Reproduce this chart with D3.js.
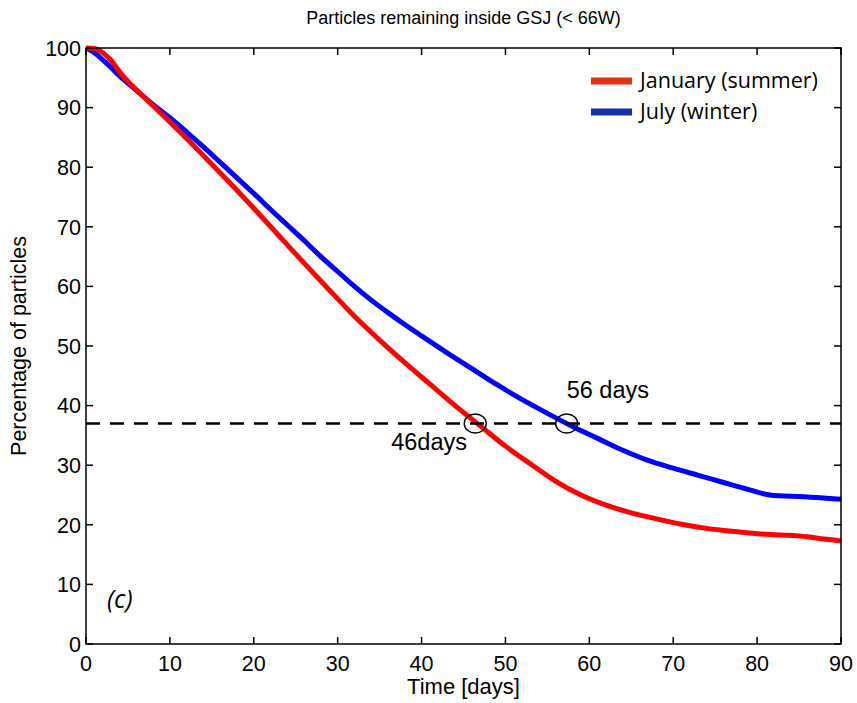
<!DOCTYPE html>
<html>
<head>
<meta charset="utf-8">
<script src="https://cdn.jsdelivr.net/npm/d3@7"></script>
<style>
  body { margin: 0; background: #fff; }
  svg { display: block; }
</style>
</head>
<body>
<div id="chart"></div>
<script>
// January (summer) curve
const janDays = [0, 1, 2, 3, 4, 5, 6, 8, 10, 13, 15, 17, 20, 23, 26, 29, 32, 35, 38, 41, 44, 47, 50, 53, 56, 59, 62, 65, 68, 71, 74, 77, 80, 83, 86, 88, 90];
const janPct = [100, 99.9, 99.2, 97.9, 96.0, 94.4, 93.0, 90.3, 87.6, 83.4, 80.5, 77.6, 73.1, 68.5, 63.9, 59.4, 55.0, 51.0, 47.2, 43.6, 40.0, 36.6, 33.2, 30.2, 27.3, 25.0, 23.3, 22.0, 21.0, 20.1, 19.4, 18.9, 18.5, 18.3, 18.0, 17.6, 17.3];

// July (winter) curve
const julDays = [0, 1, 2, 3, 4, 6, 8, 10, 12, 14, 16, 18, 20, 22, 24, 26, 28, 30, 32, 34, 36, 38, 40, 43, 46, 49, 52, 55, 58, 61, 64, 67, 70, 73, 76, 79, 82, 84, 87, 90];
const julPct = [100, 99.2, 98.0, 96.7, 95.3, 92.9, 90.5, 88.3, 85.9, 83.4, 80.8, 78.2, 75.6, 72.9, 70.3, 67.7, 65.0, 62.5, 60.0, 57.7, 55.6, 53.6, 51.7, 48.9, 46.2, 43.5, 41.0, 38.7, 36.5, 34.5, 32.5, 30.8, 29.5, 28.3, 27.1, 25.9, 24.9, 24.8, 24.6, 24.3];

const thresholdPct = 37;
const crossDays = [46.4, 57.3];
const crossLabels = ["46days", "56 days"];

const xTicks = [0, 10, 20, 30, 40, 50, 60, 70, 80, 90];
const yTicks = [0, 10, 20, 30, 40, 50, 60, 70, 80, 90, 100];

const seriesNames = ["January (summer)", "July (winter)"];
const lineColors = ["#ff0000", "#0000ff"];
const legendColors = ["#e2301c", "#1530a8"];

const width = 857, height = 703;
const margin = { left: 86, right: 16, top: 48, bottom: 59 };

const svg = d3.select("#chart").append("svg")
    .attr("width", width)
    .attr("height", height);

const x = d3.scaleLinear().domain([0, 90]).range([margin.left, width - margin.right]);
const y = d3.scaleLinear().domain([0, 100]).range([height - margin.bottom, margin.top]);

const font = "'Liberation Sans', Arial, Helvetica, sans-serif";

// curves
const series = [
    janDays.map((d, i) => [d, janPct[i]]),
    julDays.map((d, i) => [d, julPct[i]])
];

const line = d3.line()
    .x(d => x(d[0]))
    .y(d => y(d[1]))
    .curve(d3.curveMonotoneX);

// blue first so the red sits on top near the start
svg.append("path")
    .datum(series[1])
    .attr("d", line)
    .attr("fill", "none")
    .attr("stroke", lineColors[1])
    .attr("stroke-width", 5);

svg.append("path")
    .datum(series[0])
    .attr("d", line)
    .attr("fill", "none")
    .attr("stroke", lineColors[0])
    .attr("stroke-width", 5);

// threshold dashed line
svg.append("line")
    .attr("x1", x(0))
    .attr("x2", x(90))
    .attr("y1", y(thresholdPct))
    .attr("y2", y(thresholdPct))
    .attr("stroke", "#000")
    .attr("stroke-width", 2.6)
    .attr("stroke-dasharray", "14,10");

// circles at crossings
svg.selectAll(".cross")
    .data(crossDays)
    .enter()
    .append("ellipse")
    .attr("cx", d => x(d))
    .attr("cy", y(thresholdPct))
    .attr("rx", 11)
    .attr("ry", 9.5)
    .attr("fill", "none")
    .attr("stroke", "#000")
    .attr("stroke-width", 1.4);

svg.append("text")
    .attr("x", x(crossDays[0]) - 84)
    .attr("y", y(thresholdPct) + 27)
    .style("font-family", font)
    .style("font-size", "23.5px")
    .text(crossLabels[0]);

svg.append("text")
    .attr("x", x(crossDays[1]) + 0)
    .attr("y", y(thresholdPct) - 25)
    .style("font-family", font)
    .style("font-size", "23.5px")
    .text(crossLabels[1]);

// axes box with inward ticks
const tickLen = 7;
const axisG = svg.append("g")
    .attr("stroke", "#000")
    .attr("stroke-width", 1.5)
    .attr("fill", "none");

axisG.append("rect")
    .attr("x", x(0))
    .attr("y", y(100))
    .attr("width", x(90) - x(0))
    .attr("height", y(0) - y(100));

xTicks.forEach(t => {
    axisG.append("line").attr("x1", x(t)).attr("x2", x(t)).attr("y1", y(0)).attr("y2", y(0) - tickLen);
    axisG.append("line").attr("x1", x(t)).attr("x2", x(t)).attr("y1", y(100)).attr("y2", y(100) + tickLen);
});
yTicks.forEach(t => {
    axisG.append("line").attr("x1", x(0)).attr("x2", x(0) + tickLen).attr("y1", y(t)).attr("y2", y(t));
    axisG.append("line").attr("x1", x(90)).attr("x2", x(90) - tickLen).attr("y1", y(t)).attr("y2", y(t));
});

svg.selectAll(".xtick")
    .data(xTicks)
    .enter()
    .append("text")
    .attr("x", d => x(d))
    .attr("y", y(0) + 27)
    .attr("text-anchor", "middle")
    .style("font-family", font)
    .style("font-size", "21.5px")
    .text(d => d);

svg.selectAll(".ytick")
    .data(yTicks)
    .enter()
    .append("text")
    .attr("x", x(0) - 5)
    .attr("y", d => y(d))
    .attr("dy", "0.36em")
    .attr("text-anchor", "end")
    .style("font-family", font)
    .style("font-size", "21.5px")
    .text(d => d);

// axis titles
svg.append("text")
    .attr("x", (x(0) + x(90)) / 2)
    .attr("y", 694)
    .attr("text-anchor", "middle")
    .style("font-family", font)
    .style("font-size", "22px")
    .text("Time [days]");

svg.append("text")
    .attr("transform", `translate(26,${(y(0) + y(100)) / 2}) rotate(-90)`)
    .attr("text-anchor", "middle")
    .style("font-family", font)
    .style("font-size", "21.5px")
    .text("Percentage of particles");

svg.append("text")
    .attr("x", (x(0) + x(90)) / 2)
    .attr("y", 24)
    .attr("text-anchor", "middle")
    .style("font-family", font)
    .style("font-size", "18px")
    .text("Particles remaining inside GSJ (< 66W)");

// panel tag
svg.append("text")
    .attr("x", 107)
    .attr("y", 608)
    .style("font-family", "'Open Sans', sans-serif")
    .style("font-style", "italic")
    .style("font-size", "25px")
    .text("(c)");

// legend
const legend = svg.append("g");
seriesNames.forEach((name, i) => {
    const ly = 81 + i * 31;
    legend.append("line")
        .attr("x1", 591).attr("x2", 632)
        .attr("y1", ly).attr("y2", ly)
        .attr("stroke", legendColors[i])
        .attr("stroke-width", 7);
    legend.append("text")
        .attr("x", 640)
        .attr("y", ly + 7)
        .style("font-family", "'Open Sans', sans-serif")
        .style("font-size", "21.5px")
        .text(name);
});
</script>
</body>
</html>
